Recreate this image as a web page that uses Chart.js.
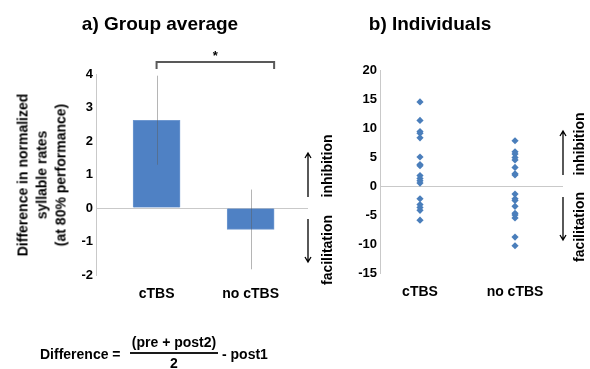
<!DOCTYPE html>
<html>
<head>
<meta charset="utf-8">
<script src="https://cdn.jsdelivr.net/npm/chart.js@4"></script>
<style>
  body { margin: 0; background: #fff; }
  #wrap { position: relative; width: 590px; height: 369px; overflow: hidden;
          font-family: 'Liberation Sans', Arial, sans-serif; font-weight: bold; color: #000; }
  canvas { position: absolute; left: 0; top: 0; }
  .txt { position: absolute; white-space: nowrap; }
  .title { font-size: 19px; line-height: 22px; transform: translateX(-50%); }
  .rot { font-size: 14px; line-height: 19px; text-align: center;
         transform: translate(-50%, -50%) rotate(-90deg); }
  .f { font-size: 14px; line-height: 16px; transform: translateY(-50%); }
</style>
</head>
<body>
<div id="wrap">
  <canvas id="groupChart" width="590" height="369"></canvas>
  <canvas id="indivChart" width="590" height="369"></canvas>

  <div class="txt title" style="left:160px; top:13px;">a) Group average</div>
  <div class="txt title" style="left:430px; top:13px;">b) Individuals</div>

  <div class="txt rot" style="left:42px; top:175px;">Difference in normalized<br>syllable rates<br>(at 80% performance)</div>

  <div class="txt rot" style="left:327px; top:166px;">inhibition</div>
  <div class="txt rot" style="left:327px; top:250px;">facilitation</div>
  <div class="txt rot" style="left:579px; top:144px;">inhibition</div>
  <div class="txt rot" style="left:579px; top:227px;">facilitation</div>

  <div class="txt f" style="left:40px; top:354px;">Difference =</div>
  <div class="txt f" style="left:174px; top:342px; transform: translate(-50%,-50%);">(pre + post2)</div>
  <div style="position:absolute; left:130px; top:352px; width:88px; height:2px; background:#1a1a1a;"></div>
  <div class="txt f" style="left:174px; top:363px; transform: translate(-50%,-50%);">2</div>
  <div class="txt f" style="left:222px; top:354px;">- post1</div>
</div>

<script>
// categories
const groups = ['cTBS', 'no cTBS'];

// a) group average (bar height and error)
const groupMeans = [2.62, -0.64];
const groupErrors = [1.33, 1.19];

// b) individual differences
const ctbsValues = [14.5, 11.3, 9.4, 9.1, 8.3, 5.0, 3.7, 3.5, 1.8, 1.3, 0.9, 0.5, -2.2, -3.2, -3.7, -4.2, -5.9];
const noCtbsValues = [7.8, 5.9, 5.5, 4.9, 4.5, 3.2, 2.1, 1.9, -1.4, -2.2, -2.5, -3.5, -4.7, -5.0, -5.5, -8.8, -10.3];

// y tick ranges
const groupTicks = { min: -2, max: 4, step: 1 };
const indivTicks = { min: -15, max: 20, step: 5 };

const FONT = "'Liberation Sans', Arial, sans-serif";
const axisGrey = '#c9c9c9';

// arrows next to the zero line (inhibition / facilitation)
const arrowPlugin = {
  id: 'arrows',
  afterDraw(chart) {
    const { ctx, chartArea, scales } = chart;
    const x = chartArea.right;
    const z = scales.y.getPixelForValue(0);
    ctx.save();
    ctx.strokeStyle = '#000';
    ctx.lineWidth = 1.3;
    const arrow = (y1, y2) => {
      const d = y2 > y1 ? 1 : -1;
      ctx.beginPath();
      ctx.moveTo(x, y1);
      ctx.lineTo(x, y2);
      ctx.moveTo(x - 3, y2 - d * 5);
      ctx.lineTo(x, y2);
      ctx.lineTo(x + 3, y2 - d * 5);
      ctx.stroke();
    };
    arrow(z - 11, z - 55);
    arrow(z + 11, z + 54);
    ctx.restore();
  }
};

// error bars + significance bracket on the group chart
const errorPlugin = {
  id: 'errors',
  afterDatasetsDraw(chart) {
    const { ctx, scales } = chart;
    const bars = chart.getDatasetMeta(0).data;
    ctx.save();
    ctx.strokeStyle = 'rgba(90, 90, 90, 0.45)';
    ctx.lineWidth = 1;
    bars.forEach((bar, i) => {
      const top = scales.y.getPixelForValue(groupMeans[i] + groupErrors[i]);
      const bot = scales.y.getPixelForValue(groupMeans[i] - groupErrors[i]);
      ctx.beginPath();
      ctx.moveTo(Math.round(bar.x) + 0.5, top);
      ctx.lineTo(Math.round(bar.x) + 0.5, bot);
      ctx.stroke();
    });
    // bracket
    const x1 = bars[0].x;
    const x2 = bars[1].x + bars[1].width / 2;
    const yb = chart.chartArea.top - 12;
    ctx.strokeStyle = '#595959';
    ctx.lineWidth = 2;
    ctx.beginPath();
    ctx.moveTo(x1, yb + 7);
    ctx.lineTo(x1, yb);
    ctx.lineTo(x2, yb);
    ctx.lineTo(x2, yb + 7);
    ctx.stroke();
    ctx.fillStyle = '#000';
    ctx.font = 'bold 13px ' + FONT;
    ctx.textAlign = 'center';
    ctx.fillText('*', (x1 + x2) / 2, yb - 2);
    ctx.restore();
  }
};

function yScale(t) {
  return {
    min: t.min,
    max: t.max,
    ticks: { stepSize: t.step, color: '#000', padding: 3, font: { family: FONT, size: 13, weight: 'bold' } },
    grid: { drawTicks: false, color: c => c.tick.value === 0 ? axisGrey : 'rgba(0,0,0,0)' },
    border: { color: axisGrey },
    afterFit(s) { s.width = 40; }
  };
}

function xScale(min, max) {
  return {
    type: 'linear',
    offset: false,
    min: min,
    max: max,
    afterBuildTicks(s) { s.ticks = groups.map((g, i) => ({ value: i })); },
    ticks: {
      callback: v => groups[v],
      color: '#000', padding: 11, maxRotation: 0,
      font: { family: FONT, size: 14, weight: 'bold' }
    },
    grid: { display: false, drawTicks: false, offset: false },
    border: { display: false },
    afterFit(s) { s.height = 30; }
  };
}

const common = {
  responsive: false,
  animation: false,
  plugins: { legend: { display: false }, tooltip: { enabled: false } }
};

new Chart(document.getElementById('groupChart'), {
  type: 'bar',
  data: {
    datasets: [{
      data: groupMeans.map((v, i) => ({ x: i, y: v })),
      backgroundColor: '#4f81c4',
      borderColor: '#6f98d0',
      borderWidth: 1,
      barThickness: 47
    }]
  },
  options: {
    ...common,
    layout: { padding: { left: 56, top: 74, right: 282, bottom: 64 } },
    scales: { x: xScale(-0.644, 1.61), y: yScale(groupTicks) }
  },
  plugins: [errorPlugin, arrowPlugin]
});

new Chart(document.getElementById('indivChart'), {
  type: 'scatter',
  data: {
    datasets: [
      { data: ctbsValues.map(v => ({ x: 0, y: v })) },
      { data: noCtbsValues.map(v => ({ x: 1, y: v })) }
    ].map(d => ({
      ...d,
      pointStyle: 'rectRot',
      pointRadius: 3.6,
      backgroundColor: '#4a7ebb',
      borderColor: '#4a7ebb',
      borderWidth: 0
    }))
  },
  options: {
    ...common,
    layout: { padding: { left: 340, top: 70, right: 27, bottom: 66 } },
    scales: { x: xScale(-0.421, 1.505), y: yScale(indivTicks) }
  },
  plugins: [arrowPlugin]
});
</script>
</body>
</html>
